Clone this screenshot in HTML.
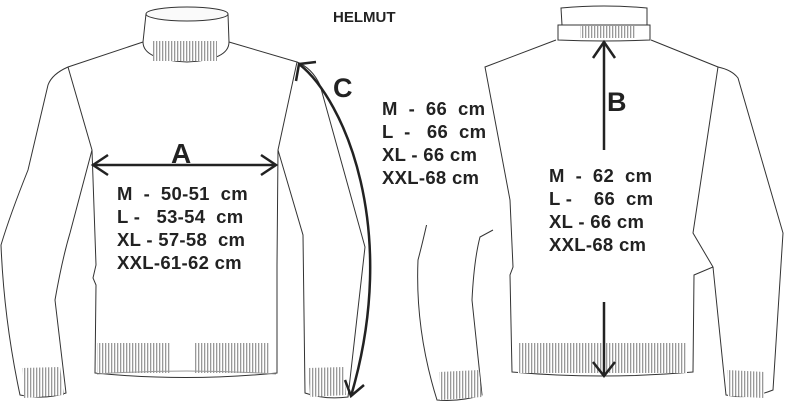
<!DOCTYPE html>
<html><head><meta charset="utf-8"><style>
html,body{margin:0;padding:0;background:#fff;width:787px;height:406px;overflow:hidden}
svg{display:block}
text{font-family:"Liberation Sans",Arial,sans-serif;font-weight:bold;fill:#222}
</style></head><body>
<svg width="787" height="406" viewBox="0 0 787 406" xmlns="http://www.w3.org/2000/svg">
<defs>
<pattern id="rib" width="3" height="10" patternUnits="userSpaceOnUse">
<rect width="3" height="10" fill="#fff"/><rect width="1.3" height="10" fill="#999"/>
</pattern>
</defs>
<g fill="none" stroke="#333" stroke-width="1">
<ellipse cx="187" cy="14" rx="41" ry="7" fill="#fafafa"/>
<path d="M146 14 L143 42 Q143 60 187 62 Q229 60 229 42 L228 14"/>
<rect x="153" y="41" width="64" height="20" fill="url(#rib)" stroke="none"/>
<path d="M143 42 L68 67 Q52 74 48 85 L28 170 Q10 215 1 245 Q4 320 20 395 Q45 400 66 393 L55 300 Q62 260 70 233 L92 150 L68 67"/>
<path d="M229 42 L297 62 L278 150 L303 235 L305 393 Q325 400 348 397 L365 247 L320 85 Q312 68 297 62"/>
<path d="M92 150 L96 265 L93 278 L96 285 L95 373 Q185 382 277 373 L277 265 L278 150"/>
<rect x="97" y="343" width="73" height="30" fill="url(#rib)" stroke="none"/>
<rect x="195" y="343" width="74" height="30" fill="url(#rib)" stroke="none"/>
<path d="M97 374 Q187 368 276 374" stroke="#999"/>
<path d="M22 368 L60 367 L64 395 L24 398 Z" fill="url(#rib)" stroke="none"/>
<path d="M308 368 L344 367 L346 395 L310 397 Z" fill="url(#rib)" stroke="none"/>
<path d="M562 25 L561 8 Q604 4 647 8 L647 25 Z"/>
<path d="M558 25 L558 40 Q604 42 650 40 L650 25 Z"/>
<rect x="580" y="26" width="55" height="12" fill="url(#rib)" stroke="none"/>
<path d="M556 40 L485 67 L510 200 L513 267 L510 275 L512 372 Q602 380 693 372 L694 275 L713 267 L693 233 L718 67 L651 40"/>
<path d="M718 67 Q732 70 738 78 L783 233 L773 390 Q748 400 726 395 L713 267"/>
<path d="M427 223 Q422 245 418 260 Q415 330 437 400 Q460 402 482 395 L472 300 Q474 260 480 237 L493 230"/>
<rect x="518" y="343" width="169" height="30" fill="url(#rib)" stroke="none"/>
<path d="M439 372 L479 370 L482 397 L440 400 Z" fill="url(#rib)" stroke="none"/>
<path d="M727 370 L765 372 L764 398 L728 396 Z" fill="url(#rib)" stroke="none"/>
</g>
<rect x="378" y="85" width="106" height="140" fill="#fff"/>
<g fill="none" stroke="#222" stroke-width="2.5">
<line x1="93" y1="165" x2="276" y2="165"/>
<polyline points="108,155 93,165 108,175"/>
<polyline points="261,155 276,165 261,175"/>
<path d="M299 64 C345 100 400 230 351 396"/>
<polyline points="296,81 299,64 316,62"/>
<polyline points="345,380 351,396 364,385"/>
<line x1="604" y1="42" x2="604" y2="150"/>
<polyline points="593,58 604,42 615,58"/>
<line x1="604" y1="302" x2="604" y2="376"/>
<polyline points="593,362 604,376 615,362"/>
</g>
<text x="333" y="22" font-size="15">HELMUT</text>
<text x="333" y="97" font-size="27">C</text>
<text x="171" y="163" font-size="28">A</text>
<text x="607" y="111" font-size="27">B</text>
<g font-size="18.5" letter-spacing="0.3">
<text x="117" y="200" xml:space="preserve">M  -  50-51  cm</text>
<text x="117" y="223" xml:space="preserve">L -   53-54  cm</text>
<text x="117" y="246" xml:space="preserve">XL - 57-58  cm</text>
<text x="117" y="269">XXL-61-62 cm</text>
<text x="382" y="115" xml:space="preserve">M  -  66  cm</text>
<text x="382" y="138" xml:space="preserve">L  -   66  cm</text>
<text x="382" y="161" xml:space="preserve">XL - 66 cm</text>
<text x="382" y="184">XXL-68 cm</text>
<text x="549" y="182" xml:space="preserve">M  -  62  cm</text>
<text x="549" y="205" xml:space="preserve">L -    66  cm</text>
<text x="549" y="228" xml:space="preserve">XL - 66 cm</text>
<text x="549" y="251">XXL-68 cm</text>
</g>
</svg>
</body></html>
